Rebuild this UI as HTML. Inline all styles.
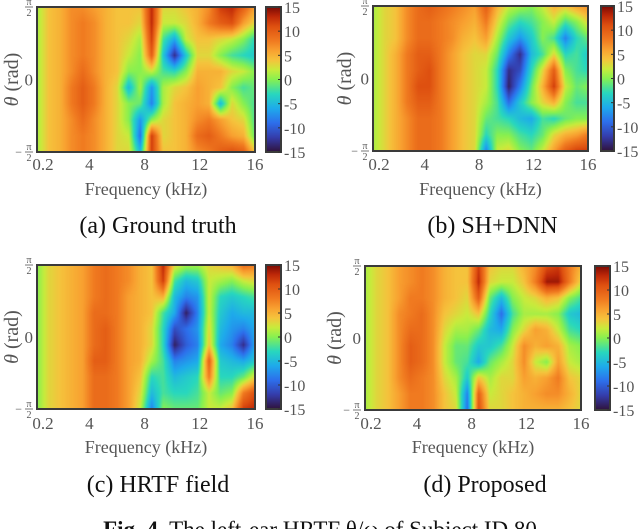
<!DOCTYPE html>
<html><head><meta charset="utf-8">
<style>
html,body{margin:0;padding:0;background:#fff;}
#root{position:relative;width:640px;height:529px;overflow:hidden;font-family:"Liberation Serif",serif;}
canvas{position:absolute;}
svg{position:absolute;left:0;top:0;}
</style></head>
<body>
<div id="root">
<svg id="ov" width="640" height="529"></svg>
</div>
<script>
// Frequency axis (kHz) and angle rows (top = +pi/2)
const freqDomain = [0.2, 16];
const xTickLabels = ["0.2","4","8","12","16"];
const xTickValues = [0.2, 4, 8, 12, 16];
const cbTicks = [15,10,5,0,-5,-10,-15];
const valueRange = [-15, 15];

const dataA = [
[1,4,5,7,7,6,5,4,4,4,13,3,3,4,5,7,12,13,10,6],
[1,4,5,7,8,7,5,4,4,3,13,2,2,3,5,8,10,11,6,3],
[1,4,5,7,8,7,5,4,3,1,12,-2,-6,2,4,4,3,2,0,-3],
[1,4,5,7,8,7,5,4,2,0,10,-4,-13,-4,3,3,0,-2,-3,-4],
[1,4,5,7,9,7,5,4,0,0,2,-2,-3,0,5,5,5,3,2,0],
[1,4,5,8,10,8,5,3,-5,1,-7,1,3,4,6,5,4,0,-2,-1],
[1,4,5,8,10,8,5,3,0,-1,-8,1,4,5,6,5,-5,3,0,-2],
[1,4,5,7,9,7,5,3,0,-7,0,3,4,5,7,8,6,4,3,-2],
[1,4,5,7,8,7,5,3,2,-9,12,3,4,5,9,10,8,6,5,-1],
[1,4,5,7,8,7,5,3,3,-5,12,4,4,5,7,8,10,11,10,4]];
const dataB = [
[1,3,4,7,9,10,9,8,7,6,10,5,2,1,0,2,5,4,6,7],
[1,3,4,7,9,9,8,7,6,5,8,3,-1,-3,-2,0,2,-2,0,3],
[1,3,4,7,9,9,8,7,5,4,6,1,-4,-7,-4,0,-2,-8,-3,-1],
[1,3,5,8,10,10,8,6,4,3,3,-1,-8,-13,-5,-2,3,-3,-2,-4],
[1,3,5,8,10,11,8,6,4,3,2,-3,-13,-11,-3,3,10,0,-2,-3],
[1,3,5,8,11,11,8,6,4,3,2,-3,-14,-8,-1,5,12,2,-1,0],
[1,3,5,8,10,10,8,6,4,3,1,-2,-9,-4,0,3,5,0,-2,-2],
[1,3,5,7,9,9,8,6,4,3,-1,-2,-3,-5,-6,-2,-3,-1,0,0],
[1,3,5,7,9,9,8,6,4,3,-3,0,0,-2,-3,-1,3,5,6,8],
[1,3,5,7,9,9,8,6,4,3,-8,2,3,0,-1,2,6,10,12,12]];
const dataC = [
[0,3,4,5,6,8,9,8,7,5,4,13,3,1,1,3,4,5,9,8],
[0,3,4,5,6,8,9,8,7,5,4,12,-2,-5,-4,2,1,0,2,3],
[0,3,4,5,6,8,9,8,6,5,4,5,-5,-8,-7,2,-3,-4,-3,-2],
[0,3,4,5,6,9,9,8,6,5,4,-2,-6,-14,-8,2,-4,-6,-5,-5],
[0,3,4,5,6,9,10,8,6,5,3,-3,-11,-9,-7,3,-5,-7,-8,-6],
[0,3,4,5,6,9,10,8,6,5,3,-3,-14,-10,-8,4,-6,-8,-13,-6],
[0,3,4,5,6,10,10,8,6,5,1,-2,-8,-7,-6,10,-4,-5,-6,-4],
[0,3,4,5,6,9,9,8,6,4,-3,-2,-5,-4,-3,8,-3,-3,-1,3],
[0,3,4,5,6,9,9,8,6,3,-5,-2,-3,-3,-2,2,-1,0,8,11],
[0,3,4,5,6,9,9,8,6,2,-8,0,-1,-1,-1,2,2,4,12,13]];
const dataD = [
[1,3,4,6,7,8,7,5,4,4,12,4,3,3,5,7,11,12,8,5],
[1,3,4,6,7,8,7,5,4,4,13,3,2,2,4,8,14,14,8,3],
[1,3,4,6,8,8,7,5,4,3,10,-1,-5,0,2,3,5,4,0,-2],
[1,3,4,7,8,9,7,4,3,2,4,-3,-9,-2,1,1,1,0,-4,-5],
[1,3,4,7,9,9,7,3,1,1,-1,-5,-6,0,3,6,5,2,-2,-3],
[1,3,4,7,10,9,7,2,-1,-1,-4,-4,-2,2,7,5,6,5,1,0],
[1,3,4,7,10,9,7,2,-1,-2,-6,-1,1,3,7,2,0,6,2,1],
[1,3,4,7,9,8,7,3,1,-4,4,1,3,3,6,5,6,8,4,3],
[1,3,4,6,8,8,7,4,2,-8,10,2,3,4,5,6,7,7,5,3],
[1,3,4,6,8,8,7,4,3,-9,11,3,3,4,5,5,5,5,4,3]];

const stops = [[-15,[48,18,59]],[-12,[52,60,170]],[-9,[45,110,235]],[-6,[30,170,235]],[-3,[40,215,190]],[0,[135,240,80]],[2,[200,235,60]],[4,[245,195,60]],[6,[248,160,48]],[8,[240,122,32]],[11,[222,80,16]],[13,[190,40,8]],[15,[122,10,4]]];
function cmap(v){
  v=Math.max(valueRange[0],Math.min(valueRange[1],v));
  for(let i=0;i<stops.length-1;i++){
    const a=stops[i],b=stops[i+1];
    if(v<=b[0]){const t=(v-a[0])/(b[0]-a[0]);return [0,1,2].map(k=>Math.round(a[1][k]+(b[1][k]-a[1][k])*t));}
  }
  return stops[stops.length-1][1];
}

const panels = [
 {key:"a",data:dataA,px:37,py:7,w:218,h:145,cbx:266,cbw:15,yl:12,caption:"(a) Ground truth",tickY:170,flY:195,capY:233},
 {key:"b",data:dataB,px:373,py:6,w:215,h:145,cbx:601,cbw:13,yl:345,caption:"(b) SH+DNN",tickY:170,flY:195,capY:233},
 {key:"c",data:dataC,px:37,py:265,w:218,h:144,cbx:266,cbw:15,yl:12,caption:"(c) HRTF field",tickY:429,flY:453,capY:492},
 {key:"d",data:dataD,px:365,py:266,w:216,h:144,cbx:595,cbw:15,yl:335,caption:"(d) Proposed",tickY:429,flY:453,capY:492}
];
const root=document.getElementById('root');
const svg=document.getElementById('ov');
const NS="http://www.w3.org/2000/svg";
function mk(tag,attrs,parent){const e=document.createElementNS(NS,tag);for(const k in attrs)e.setAttribute(k,attrs[k]);(parent||svg).appendChild(e);return e;}

panels.forEach(p=>{
  const rows=p.data.length, cols=p.data[0].length;
  const xScale=f=>p.px+(f-freqDomain[0])/(freqDomain[1]-freqDomain[0])*p.w;
  const colFreq=i=>freqDomain[0]+i*(freqDomain[1]-freqDomain[0])/(cols-1);
  const yScale=r=>p.py+r/(rows-1)*p.h;
  const cv=document.createElement('canvas');
  cv.width=p.w;cv.height=p.h;
  cv.style.left=p.px+'px';cv.style.top=p.py+'px';
  
  
  root.insertBefore(cv,svg);
  const ctx=cv.getContext('2d');
  const img=ctx.createImageData(p.w,p.h);
  const x0=xScale(colFreq(0)), x1=xScale(colFreq(cols-1));
  for(let y=0;y<p.h;y++){
    const fr=(y+p.py+0.5-yScale(0))/(yScale(rows-1)-yScale(0))*(rows-1);
    const r0=Math.max(0,Math.min(rows-2,Math.floor(fr))); const tr=Math.max(0,Math.min(1,fr-r0));
    for(let x=0;x<p.w;x++){
      const fc=(x+p.px+0.5-x0)/(x1-x0)*(cols-1);
      const c0=Math.max(0,Math.min(cols-2,Math.floor(fc))); const tc=Math.max(0,Math.min(1,fc-c0));
      const d=p.data;
      const v=(d[r0][c0]*(1-tc)+d[r0][c0+1]*tc)*(1-tr)+(d[r0+1][c0]*(1-tc)+d[r0+1][c0+1]*tc)*tr;
      const c=cmap(v);const o=(y*p.w+x)*4;
      img.data[o]=c[0];img.data[o+1]=c[1];img.data[o+2]=c[2];img.data[o+3]=255;
    }
  }
  ctx.putImageData(img,0,0);
  const fr=mk('rect',{x:p.px,y:p.py,width:p.w,height:p.h,fill:'none',stroke:'#3a3a3a','stroke-width':2});
  
  
  xTickValues.forEach((v,i)=>{
    const t=mk('text',{x:xScale(v)+(i===0?6:0),y:p.tickY,'font-size':17,fill:'#555','text-anchor':'middle'});
    t.textContent=xTickLabels[i];
    
    
  });
  const fl=mk('text',{x:p.px+p.w/2,y:p.flY,'font-size':18,fill:'#555','text-anchor':'middle'});
  fl.textContent='Frequency (kHz)';
  
  
  const cap=mk('text',{x:p.px+p.w/2+12,y:p.capY,'font-size':24,fill:'#111','text-anchor':'middle'});
  cap.textContent=p.caption;
  
  
  const cy=p.py+p.h/2;
  const yt=mk('text',{x:p.yl,y:cy,'font-size':20,fill:'#555','text-anchor':'middle',transform:`rotate(-90 ${p.yl} ${cy})`,dy:6});
  yt.innerHTML='<tspan font-style="italic">θ</tspan> (rad)';
  
  
  const z=mk('text',{x:p.px-4,y:cy+6,'font-size':17,fill:'#555','text-anchor':'end'});
  z.textContent='0';
  
  
  [[p.py,'','top'],[p.py+p.h,'−','bottom']].forEach(([yy,sg,nm])=>{
    const fx=p.px-8;
    const a=mk('text',{x:fx,y:yy-2,'font-size':10,fill:'#555','text-anchor':'middle'});a.textContent='π';
    
    
    mk('line',{x1:fx-4,x2:fx+4,y1:yy,y2:yy,stroke:'#555','stroke-width':0.8});
    const b=mk('text',{x:fx,y:yy+9,'font-size':10,fill:'#555','text-anchor':'middle'});b.textContent='2';
    
    
    if(sg){const s=mk('text',{x:fx-7,y:yy+4,'font-size':12,fill:'#555','text-anchor':'end'});s.textContent=sg;
      
      }
  });
  const g=mk('linearGradient',{id:'cg'+p.key,x1:0,y1:1,x2:0,y2:0});
  for(let v=valueRange[0];v<=valueRange[1];v+=1){const c=cmap(v);mk('stop',{offset:(v-valueRange[0])/(valueRange[1]-valueRange[0]),'stop-color':`rgb(${c})`},g);}
  const cvy=v=>p.py+(valueRange[1]-v)/(valueRange[1]-valueRange[0])*p.h;
  const cb=mk('rect',{x:p.cbx,y:p.py,width:p.cbw,height:p.h,fill:`url(#cg${p.key})`,stroke:'#3a3a3a','stroke-width':2});
  
  
  cbTicks.forEach(v=>{
    mk('line',{x1:p.cbx+p.cbw-3,x2:p.cbx+p.cbw,y1:cvy(v),y2:cvy(v),stroke:'#333','stroke-width':1});
    const t=mk('text',{x:p.cbx+p.cbw+3,y:cvy(v)+6,'font-size':16,fill:'#555'});
    t.textContent=String(v);
    
    
  });
});
const fc=mk('text',{x:320,y:537,'font-size':23,fill:'#111','text-anchor':'middle'});
fc.innerHTML='<tspan font-weight="bold">Fig. 4.</tspan> The left-ear HRTF θ/ω of Subject ID 80';


</script>
</body></html>
